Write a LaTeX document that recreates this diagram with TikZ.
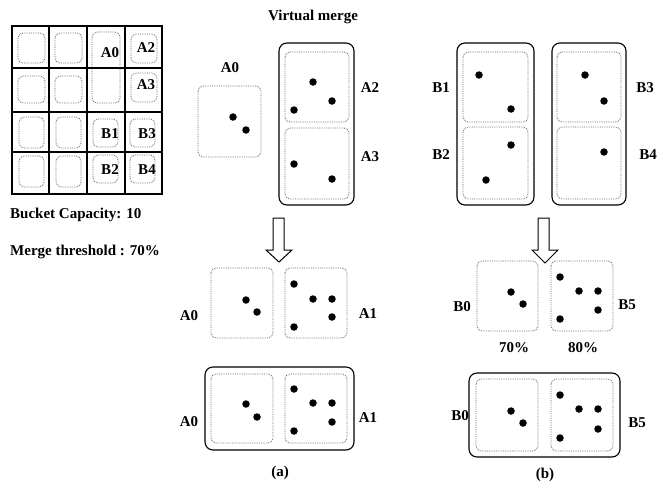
\documentclass[tikz,border=0pt]{standalone}
\usepackage{fontspec}
\setmainfont{Liberation Serif}
\begin{document}
\begin{tikzpicture}[x=1pt,y=-1pt,
  dbox/.style={draw=black!60, densely dotted, line width=0.8pt, rounded corners=5pt},
  sbox/.style={draw=black, line width=1.1pt, rounded corners=8pt},
  gridline/.style={draw=black, line width=1.1pt},
  lbl/.style={font=\fontsize{15}{17}\selectfont\bfseries, inner sep=0pt},
  dot/.style={fill=black, circle, inner sep=0pt, minimum size=7.5pt},
  blockarrow/.style={draw=black, line width=1pt, fill=white, line join=miter}]
\useasboundingbox (0,0) rectangle (672,482);
% ---------- left grid ----------
\draw[gridline, line width=1.4pt] (12,26) rectangle (162,194);
\draw[gridline] (49,26) -- (49,194) (87,26) -- (87,194) (125,26) -- (125,194);
\draw[gridline] (12,68) -- (162,68) (12,112) -- (162,112) (12,152) -- (162,152);
\draw[dbox] (18,33) rectangle (45,63);
\draw[dbox] (55,33) rectangle (82,63);
\draw[dbox] (18,76) rectangle (45,103);
\draw[dbox] (55,76) rectangle (82,103);
\draw[dbox] (19,117) rectangle (44,148);
\draw[dbox] (56,117) rectangle (81,148);
\draw[dbox] (19,156) rectangle (44,187);
\draw[dbox] (56,156) rectangle (81,187);
\draw[dbox] (92,32) rectangle (120,103);
\draw[dbox] (131,34) rectangle (157,63);
\draw[dbox] (131,73) rectangle (157,102);
\draw[dbox] (93,119) rectangle (118,147);
\draw[dbox] (130,119) rectangle (155,147);
\draw[dbox] (93,155) rectangle (118,183);
\draw[dbox] (130,155) rectangle (155,183);
\node[lbl] (gA0) at (110,53) {A0};
\node[lbl] (gA2) at (146,48) {A2};
\node[lbl] (gA3) at (146,85) {A3};
\node[lbl] (gB1) at (110,134) {B1};
\node[lbl] (gB3) at (147,134) {B3};
\node[lbl] (gB2) at (110,170) {B2};
\node[lbl] (gB4) at (147,170) {B4};
\node[lbl, anchor=west] (cap) at (10,215) {Bucket Capacity: 10};
\node[lbl, anchor=west] (thr) at (10,252) {Merge threshold : 70\%};
% ---------- (a) top ----------
\node[lbl] (vm) at (313,17) {Virtual merge};
\node[lbl] (tA0) at (230,68) {A0};
\draw[dbox] (198,86) rectangle (261,157);
\node[dot] (d1) at (233,117) {};
\node[dot] (d2) at (246,130) {};
\draw[sbox] (279,43) rectangle (354,205);
\draw[dbox] (285,52) rectangle (349,122);
\draw[dbox] (285,128) rectangle (349,199);
\node[dot] (d3) at (313,82) {};
\node[dot] (d4) at (332,101) {};
\node[dot] (d5) at (294,110) {};
\node[dot] (d6) at (294,164) {};
\node[dot] (d7) at (332,179) {};
\node[lbl] (tA2) at (370,88) {A2};
\node[lbl] (tA3) at (370,157) {A3};
% ---------- (b) top ----------
\draw[sbox] (457,43) rectangle (534,205);
\draw[dbox] (463,52) rectangle (528,122);
\draw[dbox] (463,127) rectangle (528,199);
\node[dot] (e1) at (479,75) {};
\node[dot] (e2) at (511,109) {};
\node[dot] (e3) at (511,145) {};
\node[dot] (e4) at (486,180) {};
\node[lbl] (tB1) at (441,88) {B1};
\node[lbl] (tB2) at (441,155) {B2};
\draw[sbox] (552,43) rectangle (626,205);
\draw[dbox] (557,52) rectangle (621,122);
\draw[dbox] (557,127) rectangle (621,199);
\node[dot] (e5) at (585,75) {};
\node[dot] (e6) at (604,101) {};
\node[dot] (e7) at (604,152) {};
\node[lbl] (tB3) at (645,88) {B3};
\node[lbl] (tB4) at (648,155) {B4};
% ---------- arrows ----------
\draw[blockarrow] (273,218) -- (284,218) -- (284,250) -- (292,250) -- (279,262) -- (266,250) -- (273,250) -- cycle;
\draw[blockarrow] (538,218) -- (549,218) -- (549,250) -- (558,250) -- (545,263) -- (532,250) -- (538,250) -- cycle;
% ---------- (a) middle ----------
\draw[dbox] (211,268) rectangle (273,338);
\draw[dbox] (285,268) rectangle (347,338);
\node[dot] (f1) at (246,300) {};
\node[dot] (f2) at (257,312) {};
\node[dot] (f3) at (294,284) {};
\node[dot] (f4) at (313,299) {};
\node[dot] (f5) at (332,299) {};
\node[dot] (f6) at (332,317) {};
\node[dot] (f7) at (294,327) {};
\node[lbl] (mA0) at (189,316) {A0};
\node[lbl] (mA1) at (368,314) {A1};
% ---------- (a) bottom ----------
\draw[sbox] (205,367) rectangle (354,450);
\draw[dbox] (211,374) rectangle (273,443);
\draw[dbox] (285,374) rectangle (347,443);
\node[dot] (g1) at (246,404) {};
\node[dot] (g2) at (257,417) {};
\node[dot] (g3) at (294,389) {};
\node[dot] (g4) at (313,403) {};
\node[dot] (g5) at (332,403) {};
\node[dot] (g6) at (332,422) {};
\node[dot] (g7) at (294,431) {};
\node[lbl] (bA0) at (189,422) {A0};
\node[lbl] (bA1) at (368,418) {A1};
\node[lbl] (capa) at (280,473) {(a)};
% ---------- (b) middle ----------
\draw[dbox] (477,261) rectangle (538,331);
\draw[dbox] (551,261) rectangle (613,331);
\node[dot] (h1) at (511,292) {};
\node[dot] (h2) at (523,304) {};
\node[dot] (h3) at (560,277) {};
\node[dot] (h4) at (579,291) {};
\node[dot] (h5) at (598,291) {};
\node[dot] (h6) at (598,310) {};
\node[dot] (h7) at (560,319) {};
\node[lbl] (mB0) at (462,307) {B0};
\node[lbl] (mB5) at (627,305) {B5};
\node[lbl] (p70) at (514,348) {70\%};
\node[lbl] (p80) at (583,348) {80\%};
% ---------- (b) bottom ----------
\draw[sbox] (469,373) rectangle (620,457);
\draw[dbox] (476,379) rectangle (538,451);
\draw[dbox] (551,379) rectangle (613,451);
\node[dot] (k1) at (511,411) {};
\node[dot] (k2) at (523,423) {};
\node[dot] (k3) at (560,395) {};
\node[dot] (k4) at (579,409) {};
\node[dot] (k5) at (598,409) {};
\node[dot] (k6) at (598,429) {};
\node[dot] (k7) at (560,438) {};
\node[lbl] (bB0) at (460,416) {B0};
\node[lbl] (bB5) at (637,423) {B5};
\node[lbl] (capb) at (545,475) {(b)};
\end{tikzpicture}
\end{document}
